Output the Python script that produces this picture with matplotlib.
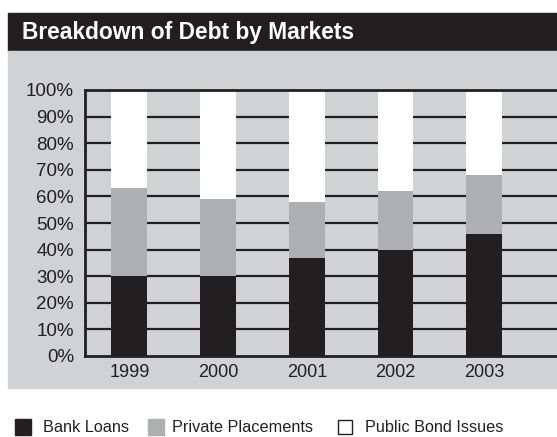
import matplotlib.pyplot as plt
from matplotlib.patches import Rectangle

years = ["1999", "2000", "2001", "2002", "2003"]
bank_loans = [30, 30, 37, 40, 46]
private_placements = [33, 29, 21, 22, 22]
public_bond_issues = [37, 41, 42, 38, 32]
y_ticks = list(range(0, 101, 10))
series_names = ["Bank Loans", "Private Placements", "Public Bond Issues"]

DARK = "#231f20"
BAR_GRAY = "#aeafb2"
PANEL = "#d1d2d4"

plt.rcParams["font.family"] = ["Liberation Sans", "DejaVu Sans"]

W, H = 557, 437
fig = plt.figure(figsize=(W / 100, H / 100), dpi=100)


def fx(px):
    return px / W


def fy(py):
    return 1 - py / H


# title band and panel background
fig.patches.append(Rectangle((fx(8), fy(51)), 1 - fx(8), (51 - 13) / H,
                             transform=fig.transFigure, color=DARK, zorder=-2))
fig.patches.append(Rectangle((fx(8), fy(388)), 1 - fx(8), (388 - 51) / H,
                             transform=fig.transFigure, color=PANEL, zorder=-2))
fig.text(fx(22), fy(32), "Breakdown of Debt by Markets", color="white",
         fontsize=16.4, fontweight="bold", va="center", ha="left")

ax = fig.add_axes([fx(85), fy(356), 1 - fx(85), (356 - 90) / H])
ax.set_zorder(1)
ax.set_facecolor("none")

x = range(len(years))
w = 0.405
bottom2 = [a + b for a, b in zip(bank_loans, private_placements)]
ax.bar(x, bank_loans, w, color=DARK, zorder=3)
ax.bar(x, private_placements, w, bottom=bank_loans, color=BAR_GRAY, zorder=3)
ax.bar(x, public_bond_issues, w, bottom=bottom2, color="white", zorder=3)

for t in y_ticks[1:-1]:
    ax.axhline(t, color=DARK, lw=1.6, zorder=1)
ax.axhline(100, color=DARK, lw=2, zorder=4, clip_on=False)

ax.set_xlim(-0.5, 4.82)
ax.set_ylim(0, 100)
ax.set_xticks(list(x))
ax.set_xticklabels(years, fontsize=13)
ax.set_yticks(y_ticks)
ax.set_yticklabels([f"{t}%" for t in y_ticks], fontsize=13.5)
ax.tick_params(length=0, pad=8, colors=DARK)
ax.tick_params(axis="x", pad=6)
for side in ("top", "right"):
    ax.spines[side].set_visible(False)
for side in ("left", "bottom"):
    ax.spines[side].set_color(DARK)
    ax.spines[side].set_linewidth(2)

# legend row: swatch left edge, label left edge, swatch size (pixels)
legend_items = [
    (15, 43, 16, dict(facecolor=DARK, edgecolor=DARK)),
    (148, 172, 16, dict(facecolor=BAR_GRAY, edgecolor=BAR_GRAY)),
    (338, 365, 14, dict(facecolor="white", edgecolor=DARK, lw=1)),
]
for name, (sx, tx, size, style) in zip(series_names, legend_items):
    fig.patches.append(Rectangle((fx(sx), fy(427 + size / 2)), size / W, size / H,
                                 transform=fig.transFigure, **style))
    fig.text(fx(tx), fy(427), name, fontsize=11.7, color=DARK,
             va="center", ha="left")

fig.savefig("out.png", dpi=100)
